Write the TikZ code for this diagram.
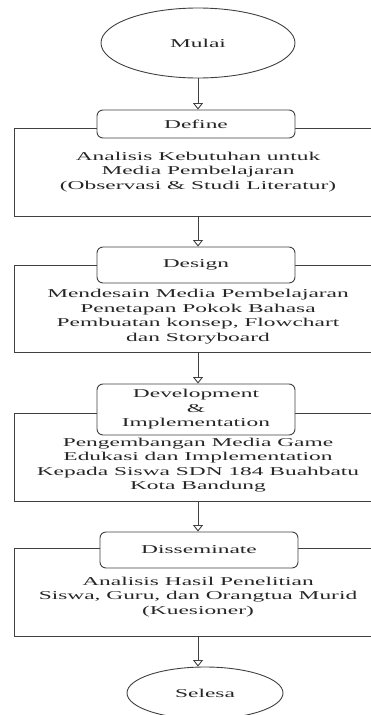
\documentclass[tikz,border=0pt]{standalone}
\usepackage{fontspec}
\setmainfont[FakeStretch=1.95]{Liberation Serif}
\usetikzlibrary{shapes.geometric,arrows.meta}
\begin{document}
\begin{tikzpicture}[
x=1pt, y=-1pt,
font=\fontsize{12}{14.5}\selectfont,
text=black!85,
line width=0.9pt,
terminal/.style={
draw=black!75,
ellipse,
inner sep=0pt
},
tahap/.style={
draw=black!75,
fill=white,
rounded corners=6pt,
align=center,
minimum width=198pt,
inner sep=0pt
},
bingkai/.style={
draw=black!75,
minimum width=368pt,
inner sep=0pt
},
isi/.style={
align=center,
inner sep=0pt
},
panah/.style={
draw=black!75,
-{Triangle[open,width=10pt,length=6.5pt]}
}
]

\useasboundingbox (0,0) rectangle (371,715);
\clip (0,0) rectangle (371,715);

\node[terminal, minimum width=194pt, minimum height=70pt] (mulai) at (198,43)
{Mulai};

\node[bingkai, minimum height=88pt] (f1) at (198,172) {};
\node[tahap, minimum height=28pt] (define) at (196,124)
{Define};
\node[isi] (t1) at (198,172)
{Analisis Kebutuhan untuk\\ Media Pembelajaran\\ (Observasi \& Studi Literatur)};

\node[bingkai, minimum height=87pt] (f2) at (198,308.5) {};
\node[tahap, minimum height=36pt] (design) at (196,265)
{Design};
\node[isi] (t2) at (198,316.5)
{Mendesain Media Pembelajaran\\ Penetapan Pokok Bahasa\\ Pembuatan konsep, Flowchart\\ dan Storyboard};

\node[bingkai, minimum height=88pt] (f3) at (198,457) {};
\node[tahap, minimum height=51pt] (dev) at (196,409.5)
{Development\\ \&\\ Implementation};
\node[isi] (t3) at (198,465)
{Pengembangan Media Game\\ Edukasi dan Implementation\\ Kepada Siswa SDN 184 Buahbatu\\ Kota Bandung};

\node[bingkai, minimum height=88pt] (f4) at (198,592) {};
\node[tahap, minimum height=36pt] (dissem) at (199,550)
{Disseminate};
\node[isi] (t4) at (198,597)
{Analisis Hasil Penelitian\\ Siswa, Guru, dan Orangtua Murid\\ (Kuesioner)};

\node[terminal, minimum width=156pt, minimum height=52pt] (selesa) at (205,693)
{Selesa};

\draw[panah] (mulai) -- (mulai |- define.north);
\draw[panah] (f1.south) -- (f1.south |- design.north);
\draw[panah] (f2.south) -- (f2.south |- dev.north);
\draw[panah] (f3.south) -- (f3.south |- dissem.north);
\draw[panah] (f4.south) -- (f4.south |- selesa.north);

\end{tikzpicture}
\end{document}
